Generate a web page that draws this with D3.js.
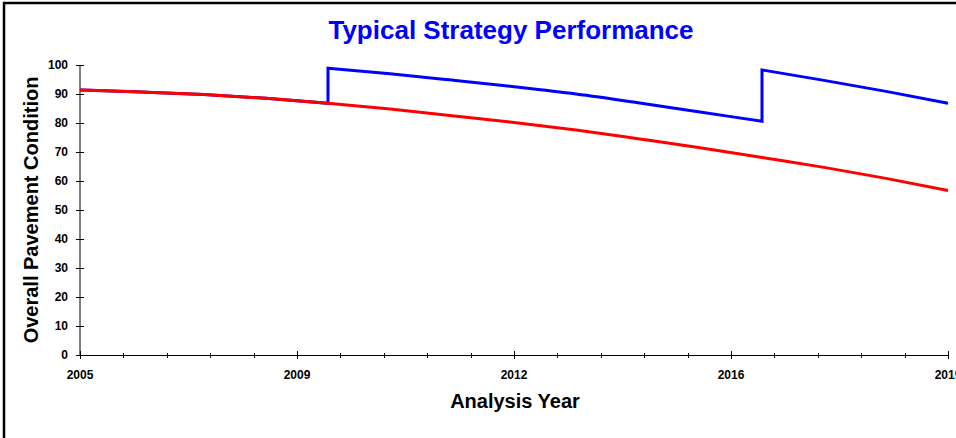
<!DOCTYPE html>
<html>
<head>
<meta charset="utf-8">
<script src="https://cdn.jsdelivr.net/npm/d3@7/dist/d3.min.js"></script>
<style>
  html, body { margin: 0; padding: 0; background: #fff; }
  svg { display: block; font-family: "Liberation Sans", Arial, sans-serif; }
</style>
</head>
<body>
<svg id="chart" width="956" height="438"></svg>
<script>
// Condition without treatment (do nothing), one value per analysis year
const redYears  = [2005, 2006, 2007, 2008, 2009, 2010, 2011, 2012, 2013, 2014, 2015, 2016, 2017, 2018, 2019];
const redValues = [91.4, 90.7, 89.8, 88.5, 86.8, 84.8, 82.5, 80.2, 77.6, 74.6, 71.5, 68.1, 64.7, 60.9, 56.7];

// Condition under the typical strategy; repeated years are treatment jumps
const blueYears  = [2005, 2006, 2007, 2008, 2009, 2009, 2010, 2011, 2012, 2013, 2014, 2015, 2016, 2016, 2017, 2018, 2019];
const blueValues = [91.4, 90.7, 89.8, 88.5, 86.8, 98.9, 97.0, 94.8, 92.5, 90.0, 87.0, 83.8, 80.6, 98.3, 94.7, 90.9, 86.8];

// Axis ticks
const yTicks = [0, 10, 20, 30, 40, 50, 60, 70, 80, 90, 100];
const xMajorTicks = [2005, 2008.5, 2012, 2015.5, 2019];
const xTickLabels = ["2005", "2009", "2012", "2016", "2019"];
const xMinorStep = 0.7;

const svg = d3.select("#chart");

// Outer frame
svg.append("rect")
  .attr("x", 4).attr("y", 3)
  .attr("width", 1000).attr("height", 500)
  .attr("fill", "none").attr("stroke", "#000").attr("stroke-width", 2.5);

const x = d3.scaleLinear().domain([2005, 2019]).range([80, 948]);
const y = d3.scaleLinear().domain([0, 100]).range([355, 65]);

const axisG = svg.append("g").attr("stroke", "#000").attr("stroke-width", 1);

// Y axis line and crossing ticks
axisG.append("line")
  .attr("x1", x(2005)).attr("x2", x(2005))
  .attr("y1", y(0)).attr("y2", y(100));
axisG.selectAll(".ytick").data(yTicks).join("line")
  .attr("class", "ytick")
  .attr("x1", x(2005) - 4).attr("x2", x(2005) + 4)
  .attr("y1", d => Math.round(y(d)) + 0.5).attr("y2", d => Math.round(y(d)) + 0.5);

// X axis line, minor and major ticks
axisG.append("line")
  .attr("x1", x(2005)).attr("x2", x(2019))
  .attr("y1", y(0) + 0.5).attr("y2", y(0) + 0.5);
const minor = d3.range(0, 21).map(i => 2005 + i * xMinorStep);
axisG.selectAll(".xminor").data(minor).join("line")
  .attr("class", "xminor")
  .attr("x1", d => Math.round(x(d)) + 0.5).attr("x2", d => Math.round(x(d)) + 0.5)
  .attr("y1", y(0) - 2).attr("y2", y(0) + 3);
axisG.selectAll(".xmajor").data(xMajorTicks).join("line")
  .attr("class", "xmajor")
  .attr("x1", d => Math.round(x(d)) + 0.5).attr("x2", d => Math.round(x(d)) + 0.5)
  .attr("y1", y(0) - 4).attr("y2", y(0) + 4);

// Tick labels
svg.selectAll(".ylab").data(yTicks).join("text")
  .attr("class", "ylab")
  .attr("x", 68).attr("y", d => y(d) + 4)
  .attr("text-anchor", "end")
  .attr("font-size", 12).attr("font-weight", "bold")
  .text(d => d);

svg.selectAll(".xlab").data(xMajorTicks).join("text")
  .attr("class", "xlab")
  .attr("x", d => x(d)).attr("y", 379)
  .attr("text-anchor", "middle")
  .attr("font-size", 12).attr("font-weight", "bold")
  .text((d, i) => xTickLabels[i]);

// Series lines
const line = d3.line()
  .x(d => x(d[0])).y(d => y(d[1]))
  .curve(d3.curveMonotoneX);

// Split a series at repeated years so each run is a smooth curve,
// joined by vertical segments at the jumps
function steppedPath(years, values) {
  const runs = [];
  let run = [];
  years.forEach((yr, i) => {
    if (run.length && yr <= run[run.length - 1][0]) { runs.push(run); run = []; }
    run.push([yr, values[i]]);
  });
  runs.push(run);
  return runs.map((r, i) => {
    const p = r.length > 1 ? line(r) : `M${x(r[0][0])},${y(r[0][1])}`;
    return i === 0 ? p : p.replace(/^M/, "L");
  }).join("");
}

svg.append("path")
  .attr("d", steppedPath(blueYears, blueValues))
  .attr("fill", "none").attr("stroke", "#0000ff")
  .attr("stroke-width", 3).attr("stroke-linejoin", "miter");

svg.append("path")
  .attr("d", line(redYears.map((yr, i) => [yr, redValues[i]])))
  .attr("fill", "none").attr("stroke", "#ff0000")
  .attr("stroke-width", 3);

// Titles
svg.append("text")
  .attr("x", 511).attr("y", 39)
  .attr("text-anchor", "middle")
  .attr("font-size", 26).attr("font-weight", "bold")
  .attr("fill", "#0000ff")
  .text("Typical Strategy Performance");

svg.append("text")
  .attr("x", 515).attr("y", 408)
  .attr("text-anchor", "middle")
  .attr("font-size", 20).attr("font-weight", "bold")
  .text("Analysis Year");

svg.append("text")
  .attr("transform", "translate(38,210) rotate(-90)")
  .attr("text-anchor", "middle")
  .attr("font-size", 20).attr("font-weight", "bold")
  .text("Overall Pavement Condition");
</script>
</body>
</html>
